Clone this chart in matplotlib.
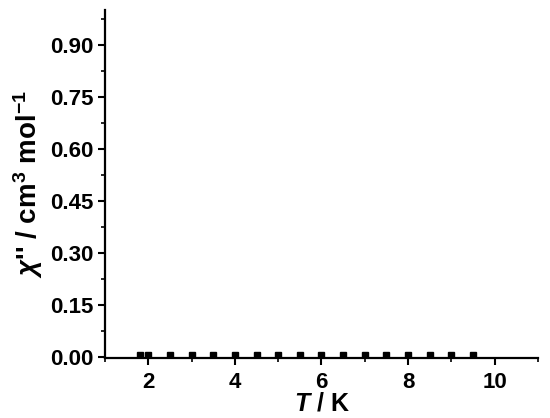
import matplotlib
matplotlib.use("Agg")
import matplotlib.pyplot as plt
from matplotlib.ticker import MultipleLocator, FormatStrFormatter

# Data
temperature = [1.8, 2.0, 2.5, 3.0, 3.5, 4.0, 4.5, 5.0, 5.5, 6.0, 6.5, 7.0, 7.5, 8.0, 8.5, 9.0, 9.5]
chi_dd = [0.007] * len(temperature)

plt.rcParams['font.family'] = ['Liberation Sans', 'DejaVu Sans']
plt.rcParams['font.weight'] = 'bold'
plt.rcParams['mathtext.fontset'] = 'custom'
plt.rcParams['mathtext.rm'] = 'Liberation Sans:bold'
plt.rcParams['mathtext.it'] = 'Liberation Sans:italic:bold'
plt.rcParams['mathtext.bf'] = 'Liberation Sans:bold'

fig = plt.figure(figsize=(5.5, 4.18), dpi=100)
ax = fig.add_axes([0.191, 0.144, 0.787, 0.832])

ax.plot(temperature, chi_dd, 's', color='black', markersize=5)

ax.set_xlim(1, 11)
ax.set_ylim(-0.002, 1.0)
ax.xaxis.set_major_locator(MultipleLocator(2))
ax.xaxis.set_minor_locator(MultipleLocator(1))
ax.yaxis.set_major_locator(MultipleLocator(0.15))
ax.yaxis.set_minor_locator(MultipleLocator(0.075))
ax.yaxis.set_major_formatter(FormatStrFormatter('%.2f'))

for side in ['top', 'right']:
    ax.spines[side].set_visible(False)
for side in ['left', 'bottom']:
    ax.spines[side].set_linewidth(1.6)

ax.tick_params(which='major', direction='out', length=5, width=1.5, labelsize=16, pad=3)
ax.tick_params(axis='x', which='major', pad=5)
ax.tick_params(which='minor', direction='out', length=3, width=1.2)
for lbl in ax.get_xticklabels() + ax.get_yticklabels():
    lbl.set_fontweight('bold')

ax.set_xlabel(r'$T$ / K', fontsize=18, fontweight='bold', labelpad=-1)
ax.set_ylabel(r"$\chi$'' / cm$^3$ mol$^{-1}$", fontsize=20, fontweight='bold', labelpad=4)

fig.savefig('out.png', dpi=100)
